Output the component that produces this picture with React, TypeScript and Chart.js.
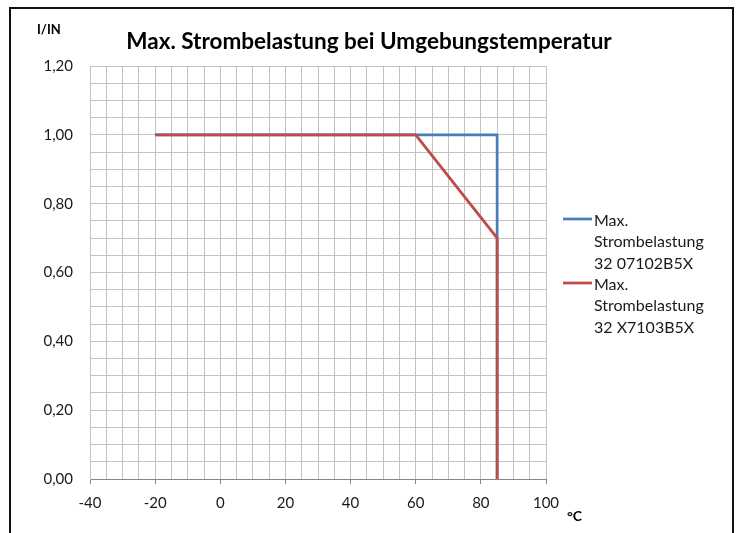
import React, { useEffect, useRef } from 'react';
import { Chart, registerables } from 'chart.js';

Chart.register(...registerables);

// ---- data ----
const chartTitle = 'Max. Strombelastung bei Umgebungstemperatur';
const yAxisTitle = 'I/IN';
const xAxisTitle = '°C';

const blueName = ['Max.', 'Strombelastung', '32 07102B5X'];
const blueX = [-20, 85, 85];
const blueY = [1.0, 1.0, 0.0];

const redName = ['Max.', 'Strombelastung', '32 X7103B5X'];
const redX = [-20, 60, 85, 85];
const redY = [1.0, 1.0, 0.7, 0.0];

const xMin = -40;
const xMax = 100;
const xGridStep = 5;
const xLabelStep = 20;
const yMin = 0;
const yMax = 1.2;
const yGridStep = 0.05;
const yLabelStep = 0.2;

// ---- styles ----
const FONT = "Lato, 'Open Sans', sans-serif";
const BLUE = '#4A7EBB';
const RED = '#BE4B48';
const GRID = '#c3c3c3';
const AXIS = '#868686';
const TEXT = '#1a1a1a';

const isMultiple = (v: number, step: number) =>
  Math.abs(v / step - Math.round(v / step)) < 1e-6;

const names = [blueName, redName];

const overlayPlugin = {
  id: 'overlay',
  afterDraw(chart: any) {
    const ctx = chart.ctx as CanvasRenderingContext2D;
    ctx.save();
    ctx.fillStyle = '#000';
    ctx.textBaseline = 'middle';
    ctx.textAlign = 'center';
    ctx.font = `bold 22.5px ${FONT}`;
    ctx.fillText(chartTitle, 369, 42);
    ctx.textAlign = 'left';
    ctx.font = `bold 13px ${FONT}`;
    ctx.fillText(yAxisTitle, 37, 30);
    ctx.font = `bold 14px ${FONT}`;
    ctx.fillText(xAxisTitle, 567, 516);

    chart.data.datasets.forEach((ds: any, i: number) => {
      const y0 = 219 + i * 64;
      ctx.strokeStyle = ds.borderColor;
      ctx.lineWidth = 2.75;
      ctx.beginPath();
      ctx.moveTo(563, y0);
      ctx.lineTo(592, y0);
      ctx.stroke();
      ctx.fillStyle = TEXT;
      ctx.font = `16px ${FONT}`;
      names[i].forEach((t, j) => ctx.fillText(t, 594, y0 + 2 + j * 21.3));
    });
    ctx.restore();
  },
};

export default function App() {
  const ref = useRef<HTMLCanvasElement>(null);

  useEffect(() => {
    if (!ref.current) return;
    const chart = new Chart(ref.current, {
      type: 'scatter',
      data: {
        datasets: [
          {
            label: blueName.join(' '),
            data: blueX.map((x, i) => ({ x, y: blueY[i] })),
            showLine: true,
            borderColor: BLUE,
            backgroundColor: BLUE,
            borderWidth: 2.75,
            pointRadius: 0,
            order: 2,
          },
          {
            label: redName.join(' '),
            data: redX.map((x, i) => ({ x, y: redY[i] })),
            showLine: true,
            borderColor: RED,
            backgroundColor: RED,
            borderWidth: 2.75,
            pointRadius: 0,
            order: 1,
          },
        ],
      },
      options: {
        animation: false,
        responsive: false,
        devicePixelRatio: 1,
        layout: { padding: { left: 0, top: 66, right: 193, bottom: 0 } },
        plugins: {
          legend: { display: false },
          title: { display: false },
          tooltip: { enabled: false },
        },
        scales: {
          x: {
            type: 'linear',
            min: xMin,
            max: xMax,
            afterFit: (s: any) => {
              s.height = 54;
            },
            ticks: {
              stepSize: xGridStep,
              autoSkip: false,
              maxRotation: 0,
              padding: 10,
              color: TEXT,
              font: { family: FONT, size: 15 },
              callback: (v: any) => (isMultiple(Number(v), xLabelStep) ? String(v) : ''),
            },
            grid: {
              color: GRID,
              lineWidth: 1,
              tickLength: 5,
              tickColor: (c: any) =>
                c.tick && isMultiple(c.tick.value, xLabelStep) ? AXIS : 'rgba(0,0,0,0)',
            },
            border: { color: AXIS, width: 1 },
          },
          y: {
            type: 'linear',
            min: yMin,
            max: yMax,
            afterFit: (s: any) => {
              s.width = 90;
            },
            ticks: {
              stepSize: yGridStep,
              autoSkip: false,
              padding: 17,
              color: TEXT,
              font: { family: FONT, size: 15 },
              callback: (v: any) => {
                const n = Number(v);
                return isMultiple(n, yLabelStep) ? n.toFixed(2).replace('.', ',') : '';
              },
            },
            grid: { color: GRID, lineWidth: 1, drawTicks: false },
            border: { color: GRID, width: 1 },
          },
        },
      },
      plugins: [overlayPlugin],
    });
    return () => chart.destroy();
  }, []);

  return (
    <div style={{ position: 'fixed', left: 0, top: 0, width: 739, height: 533, background: '#fff', overflow: 'hidden' }}>
      <div
        style={{
          position: 'absolute',
          left: 9,
          top: 7,
          width: 721,
          height: 560,
          border: '2px solid #111',
        }}
      />
      <canvas ref={ref} width={739} height={533} style={{ position: 'absolute', left: 0, top: 0 }} />
    </div>
  );
}
